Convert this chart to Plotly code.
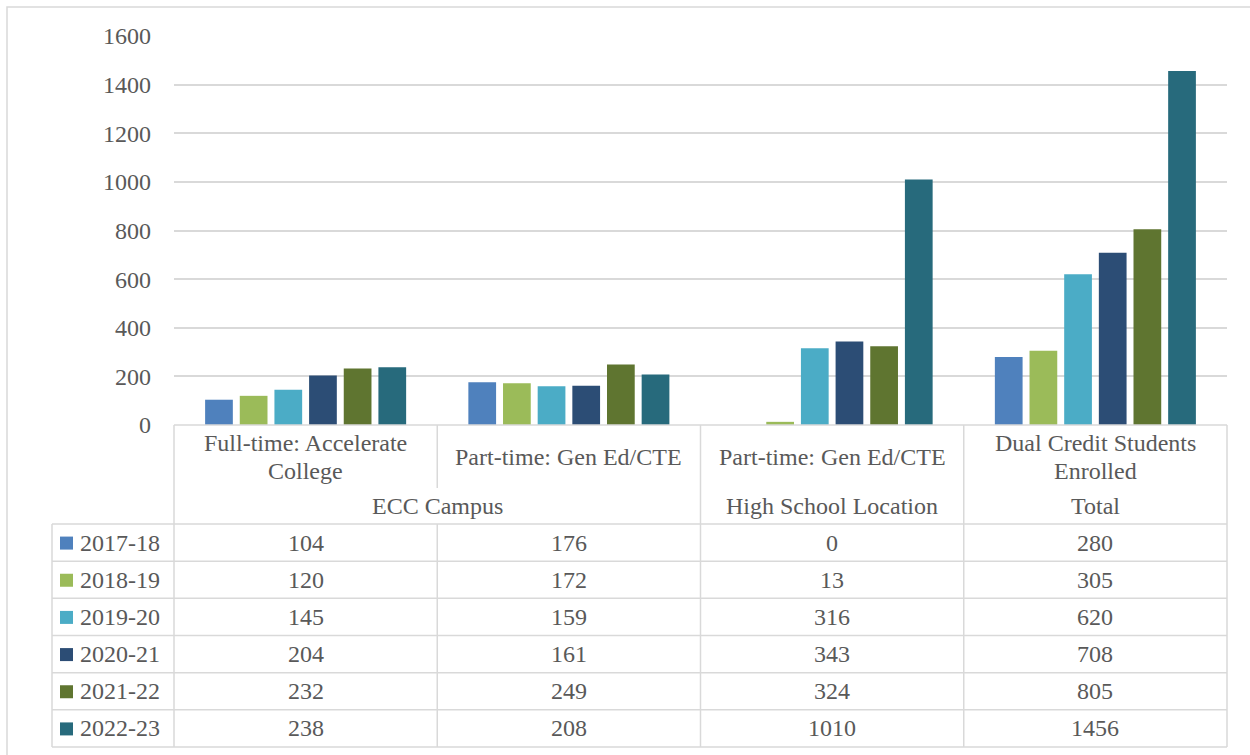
import plotly.graph_objects as go

# ---------------- data ----------------
categories = ["Full-time: Accelerate<br>College", "Part-time: Gen Ed/CTE",
              "Part-time: Gen Ed/CTE", "Dual Credit Students<br>Enrolled"]
groups = ["ECC Campus", "High School Location", "Total"]
group_spans = [2, 1, 1]
years = ["2017-18", "2018-19", "2019-20", "2020-21", "2021-22", "2022-23"]
v2017 = [104, 176, 0, 280]
v2018 = [120, 172, 13, 305]
v2019 = [145, 159, 316, 620]
v2020 = [204, 161, 343, 708]
v2021 = [232, 249, 324, 805]
v2022 = [238, 208, 1010, 1456]
series = [v2017, v2018, v2019, v2020, v2021, v2022]
colors = ["#4F81BD", "#9BBB59", "#4BACC6", "#2C4D75", "#5F7530", "#276A7C"]
y_ticks = [0, 200, 400, 600, 800, 1000, 1200, 1400, 1600]

# ---------------- geometry ----------------
W, H = 1250, 755
FONT = "Liberation Serif"
FS = 24
TXT = "#595959"
LINE = "#D9D9D9"

def X(px):
    return px / W

def Y(py):
    return 1 - py / H

plot_l, plot_r = 174, 1227
plot_t, plot_b = 36, 425
split_y = 488
head_b = 524
row_h = (747 - head_b) / 6
left_x = 52

fig = go.Figure()
xs = list(range(len(categories)))
for name, vals, c in zip(years, series, colors):
    fig.add_trace(go.Bar(x=xs, y=vals, name=name, marker=dict(color=c, line=dict(width=0)),
                         showlegend=False))

fig.update_layout(
    width=W, height=H, autosize=False,
    margin=dict(l=0, r=0, t=0, b=0, pad=0, autoexpand=False),
    paper_bgcolor="white", plot_bgcolor="white",
    barmode="group", bargap=0.21, bargroupgap=0.2,
    showlegend=False,
    font=dict(family=FONT, size=FS, color=TXT),
    xaxis=dict(domain=[X(plot_l), X(plot_r)], range=[-0.5, len(categories) - 0.5],
               showticklabels=False, showgrid=False, zeroline=False, showline=False,
               fixedrange=True, automargin=False),
    yaxis=dict(domain=[Y(plot_b), Y(plot_t)], range=[0, 1600], tickvals=y_ticks,
               showgrid=True, gridcolor=LINE, gridwidth=1.5, zeroline=False, showline=False,
               ticks="", ticklabelstandoff=22, automargin=False, fixedrange=True,
               tickfont=dict(family=FONT, size=FS, color=TXT)),
)

shapes = []

def hline(y, x0, x1):
    shapes.append(dict(type="line", xref="paper", yref="paper", x0=X(x0), x1=X(x1),
                       y0=Y(y), y1=Y(y), line=dict(color=LINE, width=1.5)))

def vline(x, y0, y1):
    shapes.append(dict(type="line", xref="paper", yref="paper", x0=X(x), x1=X(x),
                       y0=Y(y0), y1=Y(y1), line=dict(color=LINE, width=1.5)))

# outer chart border
shapes.append(dict(type="rect", xref="paper", yref="paper", x0=X(7), x1=X(1262), y0=Y(7), y1=Y(770),
                   line=dict(color=LINE, width=1.5), fillcolor="rgba(0,0,0,0)"))

ncat = len(categories)
cw = (plot_r - plot_l) / ncat
col_edges = [plot_l + i * cw for i in range(ncat + 1)]
table_b = head_b + row_h * len(years)

hline(plot_b, plot_l, plot_r)
for i in range(len(years) + 1):
    hline(head_b + i * row_h, left_x, plot_r)
vline(left_x, head_b, table_b)
gb = [0]
for s in group_spans:
    gb.append(gb[-1] + s)
for i, xe in enumerate(col_edges):
    if i in gb:
        vline(xe, plot_b, table_b)
    else:
        vline(xe, plot_b, split_y)
        vline(xe, head_b, table_b)

annotations = []

def text(x, y, s, xanchor="center"):
    annotations.append(dict(x=X(x), y=Y(y), xref="paper", yref="paper", text=s, showarrow=False,
                            xanchor=xanchor, yanchor="middle",
                            font=dict(family=FONT, size=FS, color=TXT)))

# category headers
for i, cat in enumerate(categories):
    cx = (col_edges[i] + col_edges[i + 1]) / 2
    lines = cat.split("<br>")
    lh = 28
    mid = (plot_b + split_y) / 2
    start = mid - lh * (len(lines) - 1) / 2
    for j, ln in enumerate(lines):
        text(cx, start + j * lh, ln)

# group headers
for gi, g in enumerate(groups):
    cx = (col_edges[gb[gi]] + col_edges[gb[gi + 1]]) / 2
    text(cx, (split_y + head_b) / 2, g)

# data rows
for r, (name, vals, c) in enumerate(zip(years, series, colors)):
    cy = head_b + (r + 0.5) * row_h
    shapes.append(dict(type="rect", xref="paper", yref="paper", x0=X(60), x1=X(73),
                       y0=Y(cy - 6), y1=Y(cy + 7), line=dict(width=0), fillcolor=c))
    text(78, cy, name, xanchor="left")
    for i, v in enumerate(vals):
        cx = (col_edges[i] + col_edges[i + 1]) / 2
        text(cx, cy, str(v))

fig.update_layout(shapes=shapes, annotations=annotations)
fig.write_html("out.html")
